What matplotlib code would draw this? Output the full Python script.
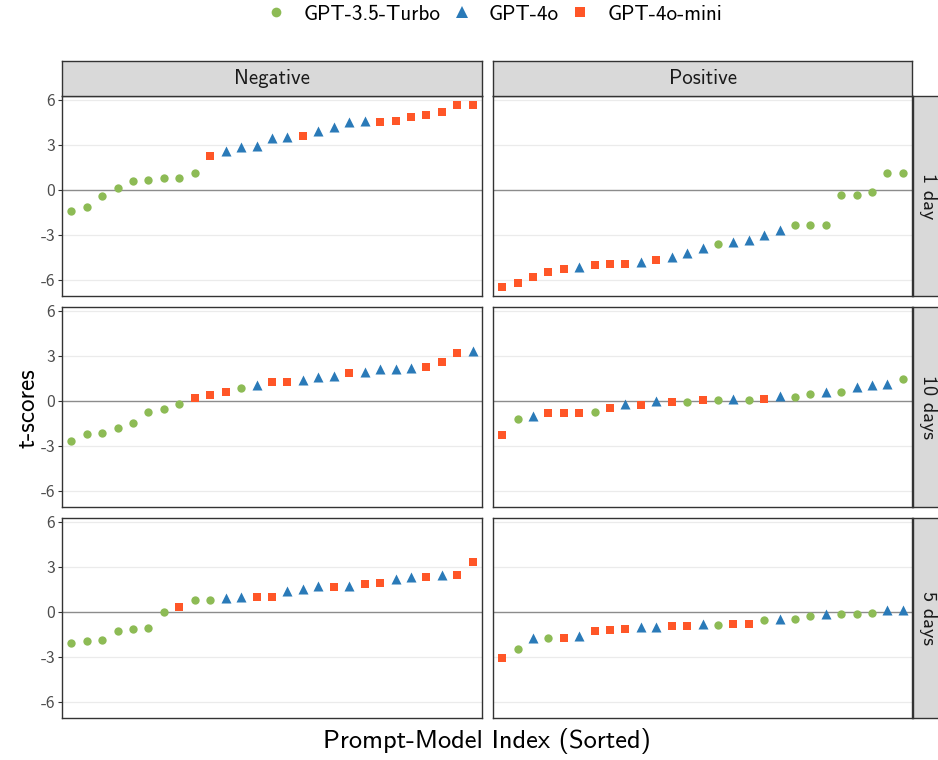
import numpy as np
import matplotlib
matplotlib.use("Agg")
import matplotlib.pyplot as plt
from matplotlib.lines import Line2D

plt.rcParams['font.family'] = ['cmss10', 'DejaVu Sans']
plt.rcParams['axes.unicode_minus'] = False

# model codes: T = GPT-3.5-Turbo, O = GPT-4o, M = GPT-4o-mini
model_names = {"T": "GPT-3.5-Turbo", "O": "GPT-4o", "M": "GPT-4o-mini"}
model_colors = {"T": "#8DBB55", "O": "#2A7AB8", "M": "#FF5627"}
model_markers = {"T": "o", "O": "^", "M": "s"}
model_sizes = {"T": 36, "O": 52, "M": 40}

sentiments = ["Negative", "Positive"]
horizons = ["1 day", "10 days", "5 days"]

neg_1day = [-1.40, -1.16, -0.40, 0.09, 0.60, 0.64, 0.78, 0.78, 1.09, 2.29, 2.58, 2.84, 2.91, 3.44,
            3.53, 3.60, 3.93, 4.22, 4.51, 4.58, 4.56, 4.62, 4.87, 5.02, 5.18, 5.67, 5.67]
neg_1day_models = "TTTTTTTTTMOOOOOMOOOOMMMMMMM"
pos_1day = [-6.51, -6.24, -5.82, -5.49, -5.27, -5.16, -5.02, -4.98, -4.93, -4.80, -4.67, -4.51, -4.20,
            -3.91, -3.64, -3.47, -3.33, -3.04, -2.69, -2.38, -2.38, -2.38, -0.36, -0.33, -0.18, 1.09, 1.11]
pos_1day_models = "MMMMMOMMMOMOOOTOOOOTTTTTTTT"

neg_10day = [-2.68, -2.20, -2.18, -1.80, -1.49, -0.77, -0.53, -0.24, 0.22, 0.37, 0.57, 0.86, 1.03, 1.27,
             1.27, 1.38, 1.60, 1.69, 1.85, 1.93, 2.13, 2.13, 2.22, 2.26, 2.62, 3.21, 3.30]
neg_10day_models = "TTTTTTTTMMMTOMMOOOMOOOOMMMO"
pos_10day = [-2.26, -1.23, -0.99, -0.81, -0.79, -0.79, -0.73, -0.48, -0.24, -0.26, -0.02, -0.11, -0.09,
             0.02, 0.04, 0.15, 0.04, 0.15, 0.31, 0.24, 0.48, 0.62, 0.62, 0.90, 1.08, 1.10, 1.43]
pos_10day_models = "MTOMMMTMOMOMTMTOTMOTTOTOOOT"

neg_5day = [-2.10, -1.96, -1.88, -1.26, -1.15, -1.06, 0.00, 0.33, 0.79, 0.82, 0.90, 1.00, 0.99, 1.01,
            1.37, 1.55, 1.70, 1.68, 1.72, 1.85, 1.90, 2.20, 2.32, 2.34, 2.47, 2.49, 3.31]
neg_5day_models = "TTTTTTTMTTOOMMOOOMOMMOOMOMM"
pos_5day = [-3.07, -2.49, -1.72, -1.72, -1.72, -1.61, -1.26, -1.24, -1.17, -1.02, -0.99, -0.95, -0.95,
            -0.82, -0.86, -0.79, -0.79, -0.53, -0.46, -0.46, -0.31, -0.18, -0.18, -0.15, -0.07, 0.09, 0.13]
pos_5day_models = "MTOTMOMMMOOMMOTMMTOTTOTTTOO"

panels = {
    ("Negative", "1 day"): (neg_1day, neg_1day_models),
    ("Positive", "1 day"): (pos_1day, pos_1day_models),
    ("Negative", "10 days"): (neg_10day, neg_10day_models),
    ("Positive", "10 days"): (pos_10day, pos_10day_models),
    ("Negative", "5 days"): (neg_5day, neg_5day_models),
    ("Positive", "5 days"): (pos_5day, pos_5day_models),
}

W, H = 938, 760
fig = plt.figure(figsize=(W / 100, H / 100), dpi=100)


def px_axes(x0, y0, x1, y1):
    return fig.add_axes([x0 / W, 1 - y1 / H, (x1 - x0) / W, (y1 - y0) / H])


col_x = [(62, 482), (493, 912)]
row_y = [(96, 296), (307, 507), (518, 718)]
border = "#333333"
yticks = [-6, -3, 0, 3, 6]

for r, hz in enumerate(horizons):
    for c, sent in enumerate(sentiments):
        vals, codes = panels[(sent, hz)]
        x0, x1 = col_x[c]
        y0, y1 = row_y[r]
        ax = px_axes(x0, y0, x1, y1)
        idx = np.arange(1, len(vals) + 1)
        vals = np.array(vals)
        codes = np.array(list(codes))
        for m in ["T", "O", "M"]:
            sel = codes == m
            ax.scatter(idx[sel], vals[sel], marker=model_markers[m], s=model_sizes[m],
                       color=model_colors[m], linewidths=0, zorder=3)
        ax.set_xlim(0.4, 27.6)
        ax.set_ylim(-7.1, 6.27)
        for yv in [-6, -3, 3, 6]:
            ax.axhline(yv, color="#EBEBEB", lw=0.9, zorder=1)
        ax.axhline(0, color="#8C8C8C", lw=1.0, zorder=2)
        ax.set_xticks([])
        ax.set_yticks(yticks)
        if c == 0:
            ax.set_yticklabels([str(v) for v in yticks], fontsize=12.5, color="#4D4D4D")
            ax.tick_params(axis="y", length=3, color="#333333", pad=2)
        else:
            ax.tick_params(axis="y", length=0, labelleft=False)
        for sp in ax.spines.values():
            sp.set_color(border)
            sp.set_linewidth(1.0)

        if r == 0:
            sax = px_axes(x0, 61, x1, 96)
            sax.set_facecolor("#D9D9D9")
            sax.set_xticks([]); sax.set_yticks([])
            for sp in sax.spines.values():
                sp.set_color(border)
                sp.set_linewidth(1.0)
            sax.text(0.5, 0.5, sent, ha="center", va="center", fontsize=15, color="#1A1A1A",
                     transform=sax.transAxes)
        if c == 1:
            rax = px_axes(913, y0, 950, y1)
            rax.set_facecolor("#D9D9D9")
            rax.set_xticks([]); rax.set_yticks([])
            for sp in rax.spines.values():
                sp.set_color(border)
                sp.set_linewidth(1.0)
            fig.text(928 / W, 1 - (y0 + y1) / 2 / H, hz, rotation=-90, ha="center", va="center",
                     fontsize=14.5, color="#1A1A1A")

fig.text(28 / W, 1 - 408 / H, "t-scores", rotation=90, ha="center", va="center", fontsize=18)
fig.text(487 / W, 1 - 741 / H, "Prompt-Model Index (Sorted)", ha="center", va="center", fontsize=19)

handles = [Line2D([], [], linestyle="none", marker=model_markers[m], color=model_colors[m],
                  markersize=7 if m != "O" else 8.5, markeredgewidth=0) for m in ["T", "O", "M"]]
fig.legend(handles, [model_names[m] for m in ["T", "O", "M"]], loc="center",
           bbox_to_anchor=(494 / W, 1 - 14 / H), ncol=3, frameon=False, fontsize=15.2,
           handletextpad=0.8, columnspacing=0.5, handlelength=1.0)

fig.savefig("out.png", dpi=100)
